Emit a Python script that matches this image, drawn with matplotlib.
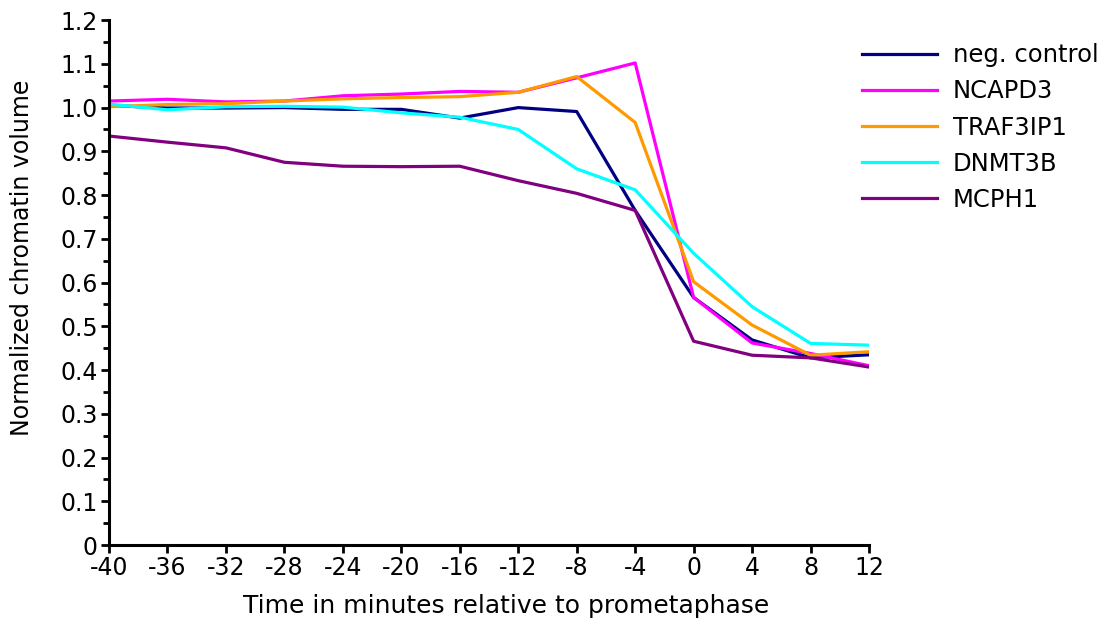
import numpy as np
import matplotlib.pyplot as plt
from matplotlib.ticker import MultipleLocator

plt.rcParams['font.family'] = ['DejaVu Sans']
plt.rcParams['axes.unicode_minus'] = False

# minutes relative to prometaphase
time = [-40, -36, -32, -28, -24, -20, -16, -12, -8, -4, 0, 4, 8, 12]

neg_control = [1.005, 0.999, 0.999, 1.000, 0.996, 0.996, 0.976, 1.000, 0.991, 0.765, 0.566, 0.469, 0.428, 0.435]
ncapd3 = [1.015, 1.019, 1.013, 1.015, 1.027, 1.031, 1.037, 1.035, 1.068, 1.102, 0.566, 0.462, 0.438, 0.410]
traf3ip1 = [1.002, 1.007, 1.009, 1.015, 1.020, 1.023, 1.025, 1.035, 1.071, 0.966, 0.602, 0.503, 0.434, 0.442]
dnmt3b = [1.008, 0.995, 1.002, 1.003, 1.001, 0.988, 0.978, 0.950, 0.860, 0.812, 0.667, 0.545, 0.461, 0.457]
mcph1 = [0.935, 0.921, 0.908, 0.875, 0.866, 0.865, 0.866, 0.833, 0.804, 0.765, 0.466, 0.434, 0.428, 0.407]

names = ['neg. control', 'NCAPD3', 'TRAF3IP1', 'DNMT3B', 'MCPH1']
colors = ['#000080', '#FF00FF', '#FF9900', '#00FFFF', '#800080']

fig = plt.figure(figsize=(11.08, 6.28), dpi=100)
ax = fig.add_axes([0.0984, 0.132, 0.6859, 0.836])

for vals, name, c in zip([neg_control, ncapd3, traf3ip1, dnmt3b, mcph1], names, colors):
    ax.plot(time, vals, color=c, lw=2.3, label=name)

ax.set_xlim(-40, 12)
ax.set_ylim(0, 1.2)
ax.set_xticks(time)
ax.set_xticklabels([str(t) for t in time])
yt = np.round(np.arange(0, 1.21, 0.1), 1)
ax.set_yticks(yt)
ax.set_yticklabels(['0'] + ['%.1f' % v for v in yt[1:]])
ax.yaxis.set_minor_locator(MultipleLocator(0.05))

for s in ['top', 'right']:
    ax.spines[s].set_visible(False)
for s in ['left', 'bottom']:
    ax.spines[s].set_linewidth(2.2)
ax.tick_params(axis='both', which='major', labelsize=17, width=2, length=6, pad=2)
ax.tick_params(axis='y', which='minor', width=2, length=4)

ax.set_xlabel('Time in minutes relative to prometaphase', fontsize=18)
ax.xaxis.set_label_coords(0.522, -0.093)
ax.set_ylabel('Normalized chromatin volume', fontsize=17)
ax.yaxis.set_label_coords(-0.099, 0.547)

fig.legend(loc='upper left', bbox_to_anchor=(0.758, 0.966), frameon=False,
           fontsize=17.5, handlelength=3.1, handletextpad=0.65, labelspacing=0.5)

fig.savefig('out.png', dpi=100)
